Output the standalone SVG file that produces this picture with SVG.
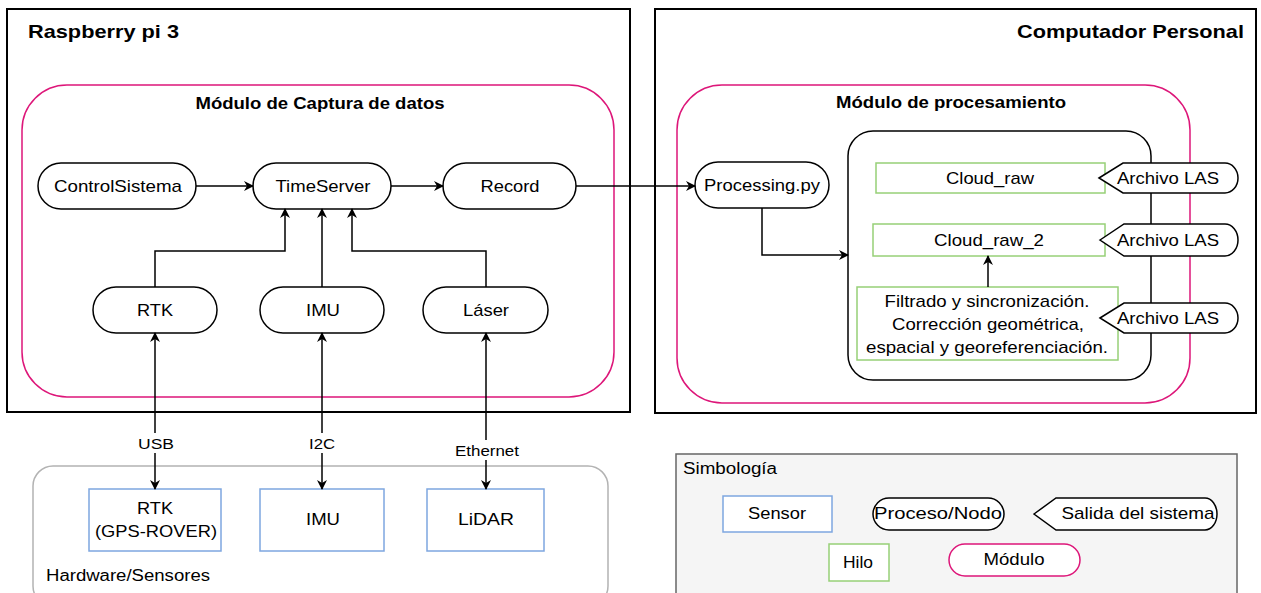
<svg xmlns="http://www.w3.org/2000/svg" width="1261" height="593" viewBox="0 0 1261 593">
  <style>
    text { font-family: "Liberation Sans", Arial, sans-serif; fill: #000; }
    .title { font-size: 19px; font-weight: bold; }
    .mtitle { font-size: 17px; font-weight: bold; text-anchor: middle; }
    .lbl { font-size: 17px; text-anchor: middle; dominant-baseline: central; }
    .small { font-size: 15px; text-anchor: middle; dominant-baseline: central; }
    .frame { fill: #fff; stroke: #000; stroke-width: 2; }
    .module { fill: none; stroke: #DD1679; stroke-width: 1.5; }
    .proc { fill: #fff; stroke: #000; stroke-width: 1.5; }
    .thread { fill: #fff; stroke: #97D077; stroke-width: 1.5; }
    .sensor { fill: #fff; stroke: #7EA6E0; stroke-width: 1.5; }
    .hw { fill: #fff; stroke: #B3B3B3; stroke-width: 1.5; }
    .legend { fill: #F5F5F5; stroke: #666; stroke-width: 1.5; }
    .edge { fill: none; stroke: #000; stroke-width: 1.5; }
  </style>
  <defs>
    <marker id="arrow" viewBox="0 0 10 10" refX="9" refY="5" markerWidth="10" markerHeight="10" markerUnits="userSpaceOnUse" orient="auto-start-reverse">
      <path d="M0,0 L10,5 L0,10 L3,5 Z" fill="#000"/>
    </marker>
  </defs>

  <!-- Containers -->
  <g id="raspberry">
    <rect class="frame" x="7" y="9" width="623" height="403"/>
    <text class="title" x="28" y="38" textLength="151" lengthAdjust="spacingAndGlyphs">Raspberry pi 3</text>
  </g>
  <g id="computador">
    <rect class="frame" x="655" y="9" width="601" height="404"/>
    <text class="title" x="1017" y="38" textLength="227" lengthAdjust="spacingAndGlyphs">Computador Personal</text>
  </g>
  <g id="modulo-captura">
    <rect class="module" x="22" y="85" width="592" height="312" rx="45" ry="45"/>
    <text class="mtitle" x="320" y="109" textLength="249" lengthAdjust="spacingAndGlyphs">Módulo de Captura de datos</text>
  </g>
  <g id="modulo-procesamiento">
    <rect class="module" x="677" y="85" width="513" height="318" rx="45" ry="45"/>
    <text class="mtitle" x="951" y="108" textLength="230" lengthAdjust="spacingAndGlyphs">Módulo de procesamiento</text>
  </g>
  <g id="hardware">
    <rect class="hw" x="33" y="466" width="575" height="140" rx="20" ry="20"/>
    <text x="46" y="581" style="font-size:16px" textLength="164" lengthAdjust="spacingAndGlyphs">Hardware/Sensores</text>
  </g>

  <!-- Processes inside the capture module -->
  <g id="controlsistema">
    <rect class="proc" x="38" y="163" width="158" height="46" rx="23"/>
    <text class="lbl" x="118" y="186" textLength="128" lengthAdjust="spacingAndGlyphs">ControlSistema</text>
  </g>
  <g id="timeserver">
    <rect class="proc" x="253" y="163" width="138" height="46" rx="23"/>
    <text class="lbl" x="323" y="186" textLength="95" lengthAdjust="spacingAndGlyphs">TimeServer</text>
  </g>
  <g id="record">
    <rect class="proc" x="443" y="163" width="133" height="46" rx="23"/>
    <text class="lbl" x="510" y="186" textLength="59" lengthAdjust="spacingAndGlyphs">Record</text>
  </g>
  <g id="rtk">
    <rect class="proc" x="93" y="287" width="124" height="46" rx="23"/>
    <text class="lbl" x="155" y="310" textLength="36" lengthAdjust="spacingAndGlyphs">RTK</text>
  </g>
  <g id="imu">
    <rect class="proc" x="260" y="287" width="124" height="46" rx="23"/>
    <text class="lbl" x="323" y="310" textLength="34" lengthAdjust="spacingAndGlyphs">IMU</text>
  </g>
  <g id="laser">
    <rect class="proc" x="423" y="287" width="125" height="46" rx="23"/>
    <text class="lbl" x="486" y="310" textLength="46" lengthAdjust="spacingAndGlyphs">Láser</text>
  </g>

  <!-- Sensors -->
  <g id="sensor-rtk">
    <rect class="sensor" x="89" y="489" width="132" height="62"/>
    <text class="lbl" x="155" y="508" textLength="36" lengthAdjust="spacingAndGlyphs">RTK</text>
    <text class="lbl" x="156" y="531" textLength="122" lengthAdjust="spacingAndGlyphs">(GPS-ROVER)</text>
  </g>
  <g id="sensor-imu">
    <rect class="sensor" x="260" y="489" width="124" height="62"/>
    <text class="lbl" x="323" y="519" textLength="34" lengthAdjust="spacingAndGlyphs">IMU</text>
  </g>
  <g id="sensor-lidar">
    <rect class="sensor" x="427" y="489" width="117" height="62"/>
    <text class="lbl" x="486" y="519" textLength="56" lengthAdjust="spacingAndGlyphs">LiDAR</text>
  </g>

  <!-- Processing side -->
  <g id="processing">
    <rect class="proc" x="695" y="162" width="134" height="46" rx="23"/>
    <text class="lbl" x="762" y="185" textLength="116" lengthAdjust="spacingAndGlyphs">Processing.py</text>
  </g>
  <g id="pipeline">
    <rect class="proc" x="848" y="131" width="303" height="249" rx="25" ry="25"/>
  </g>
  <g id="cloud-raw">
    <rect class="thread" x="876" y="163" width="229" height="30"/>
    <text class="lbl" x="990" y="178" textLength="88" lengthAdjust="spacingAndGlyphs">Cloud_raw</text>
  </g>
  <g id="cloud-raw-2">
    <rect class="thread" x="873" y="224" width="232" height="32"/>
    <text class="lbl" x="989" y="240" textLength="110" lengthAdjust="spacingAndGlyphs">Cloud_raw_2</text>
  </g>
  <g id="filtrado">
    <rect class="thread" x="857" y="287" width="261" height="73"/>
    <text class="lbl" x="987" y="301" textLength="205" lengthAdjust="spacingAndGlyphs">Filtrado y sincronización.</text>
    <text class="lbl" x="988" y="324" textLength="192" lengthAdjust="spacingAndGlyphs">Corrección geométrica,</text>
    <text class="lbl" x="987" y="347" textLength="242" lengthAdjust="spacingAndGlyphs">espacial y georeferenciación.</text>
  </g>
  <g id="las-1">
    <path class="proc" d="M1099,178 L1123,163 L1225,163 A13,15 0 0 1 1225,193 L1123,193 Z"/>
    <text class="lbl" x="1168" y="178" textLength="102" lengthAdjust="spacingAndGlyphs">Archivo LAS</text>
  </g>
  <g id="las-2">
    <path class="proc" d="M1100,240 L1124,224 L1225,224 A13,16 0 0 1 1225,256 L1124,256 Z"/>
    <text class="lbl" x="1168" y="240" textLength="102" lengthAdjust="spacingAndGlyphs">Archivo LAS</text>
  </g>
  <g id="las-3">
    <path class="proc" d="M1100,318 L1124,303 L1225,303 A13,15 0 0 1 1225,333 L1124,333 Z"/>
    <text class="lbl" x="1168" y="318" textLength="102" lengthAdjust="spacingAndGlyphs">Archivo LAS</text>
  </g>

  <!-- Legend -->
  <g id="simbologia">
    <rect class="legend" x="676" y="454" width="561" height="150"/>
    <text x="683" y="474" style="font-size:16px" textLength="94" lengthAdjust="spacingAndGlyphs">Simbología</text>
    <rect class="sensor" x="723" y="496" width="109" height="36"/>
    <text class="lbl" x="777" y="513" textLength="58" lengthAdjust="spacingAndGlyphs">Sensor</text>
    <rect class="proc" x="873" y="498" width="131" height="32" rx="16"/>
    <text class="lbl" x="938" y="513" textLength="128" lengthAdjust="spacingAndGlyphs">Proceso/Nodo</text>
    <path class="proc" d="M1034,514 L1056,498 L1205,498 A12,16 0 0 1 1205,530 L1056,530 Z"/>
    <text class="lbl" x="1138" y="513" textLength="153" lengthAdjust="spacingAndGlyphs">Salida del sistema</text>
    <rect class="thread" x="829" y="544" width="60" height="37"/>
    <text class="lbl" x="858" y="562" textLength="30" lengthAdjust="spacingAndGlyphs">Hilo</text>
    <rect class="proc" x="949" y="544" width="131" height="32" rx="16" style="stroke:#DD1679"/>
    <text class="lbl" x="1014" y="559" textLength="61" lengthAdjust="spacingAndGlyphs">Módulo</text>
  </g>

  <!-- Connectors -->
  <g id="connectors">
    <path class="edge" d="M196,186 H253" marker-end="url(#arrow)"/>
    <path class="edge" d="M391,186 H443" marker-end="url(#arrow)"/>
    <path class="edge" d="M576,186 H695" marker-end="url(#arrow)"/>
    <path class="edge" d="M155,287 V251 H285 V209" marker-end="url(#arrow)"/>
    <path class="edge" d="M322,287 V209" marker-end="url(#arrow)"/>
    <path class="edge" d="M486,287 V251 H352 V209" marker-end="url(#arrow)"/>
    <path class="edge" d="M762,208 V255 H848" marker-end="url(#arrow)"/>
    <path class="edge" d="M988,287 V256" marker-end="url(#arrow)"/>
    <path class="edge" d="M155,333 V489" marker-start="url(#arrow)" marker-end="url(#arrow)"/>
    <path class="edge" d="M322,333 V489" marker-start="url(#arrow)" marker-end="url(#arrow)"/>
    <path class="edge" d="M486,333 V489" marker-start="url(#arrow)" marker-end="url(#arrow)"/>
    <rect x="136" y="433" width="38" height="20" fill="#fff"/>
    <text class="small" x="156" y="443" textLength="36" lengthAdjust="spacingAndGlyphs">USB</text>
    <rect x="306" y="433" width="32" height="20" fill="#fff"/>
    <text class="small" x="322" y="443" textLength="26" lengthAdjust="spacingAndGlyphs">I2C</text>
    <rect x="452" y="440" width="68" height="20" fill="#fff"/>
    <text class="small" x="487" y="450" textLength="64" lengthAdjust="spacingAndGlyphs">Ethernet</text>
  </g>
</svg>
